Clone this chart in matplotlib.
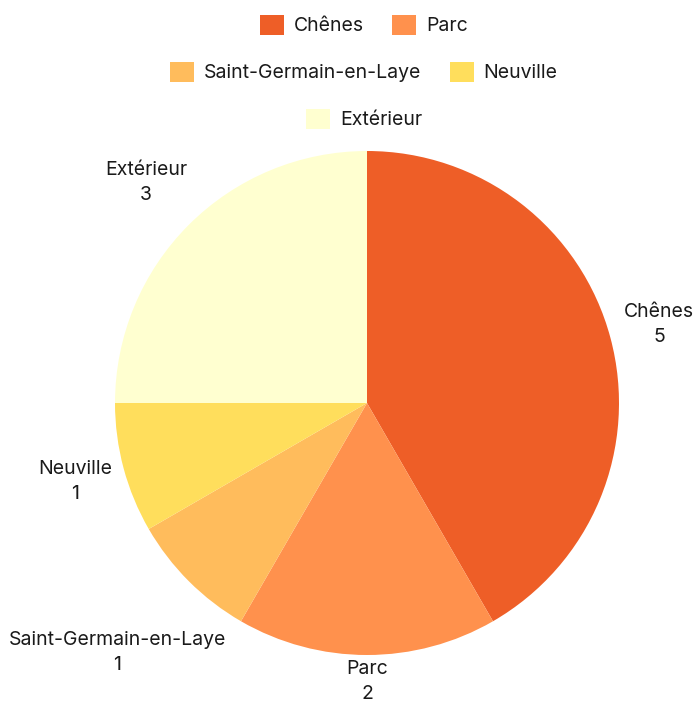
import numpy as np
import matplotlib
matplotlib.use("Agg")
import matplotlib.pyplot as plt

plt.rcParams['font.family'] = ['Inter', 'DejaVu Sans']

labels = ["Chênes", "Parc", "Saint-Germain-en-Laye", "Neuville", "Extérieur"]
values = [5, 2, 1, 1, 3]
colors = ["#EE5E27", "#FF914D", "#FFBC5C", "#FFDE5C", "#FFFFD0"]
legend_rows = [[0, 1], [2, 3], [4]]
label_dist = [1.2, 1.105, 1.4, 1.2, 1.24]

W, H = 698, 706
fig = plt.figure(figsize=(W / 100, H / 100), dpi=100)
cx, cy, r = 367, 403, 252
ax = fig.add_axes([(cx - r) / W, (H - cy - r) / H, 2 * r / W, 2 * r / H])
wedges, _ = ax.pie(values, colors=colors, startangle=90, counterclock=False,
                   radius=1, wedgeprops=dict(linewidth=0))
ax.set_xlim(-1, 1)
ax.set_ylim(-1, 1)
ax.set_aspect('equal')
ax.axis('off')

# outside labels: name + value
total = sum(values)
start = 90.0
for lab, v, d in zip(labels, values, label_dist):
    span = 360.0 * v / total
    mid = np.deg2rad(start - span / 2)
    start -= span
    ax.text(d * np.cos(mid), d * np.sin(mid), f"{lab}\n{v}", ha='center', va='center',
            fontsize=14, color="#1a1a1a", linespacing=1.5, clip_on=False)

# legend rows, centered
for i, row in enumerate(legend_rows):
    y = 1 - (25 + 47 * i) / H
    fig.legend([wedges[k] for k in row], [labels[k] for k in row], loc='center',
               bbox_to_anchor=(364 / W, y), ncol=len(row), frameon=False,
               fontsize=14, handlelength=1.24, handleheight=1.24,
               handletextpad=0.5, columnspacing=1.45, borderpad=0, labelcolor="#1a1a1a")

fig.savefig("out.png", dpi=100)
